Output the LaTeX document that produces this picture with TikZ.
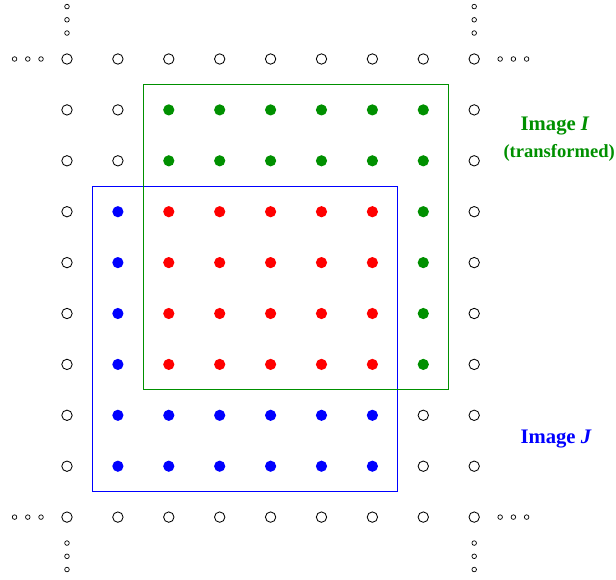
\documentclass[tikz,border=0pt]{standalone}
\usepackage{fontspec}
\setmainfont{Liberation Serif}
\usepackage{xcolor}
\usetikzlibrary{positioning}
\definecolor{gin}{HTML}{009000}
\definecolor{bin}{HTML}{0000FF}
\definecolor{rin}{HTML}{FF0000}
\definecolor{ink}{HTML}{000000}

\begin{document}
\begin{tikzpicture}[x=1.2725cm,y=-1.2725cm,
  hole/.style={circle,draw=ink,line width=0.6pt,fill=white,inner sep=0pt,minimum size=2.6mm},
  gdot/.style={circle,fill=gin,inner sep=0pt,minimum size=2.8mm},
  rdot/.style={circle,fill=rin,inner sep=0pt,minimum size=2.8mm},
  bdot/.style={circle,fill=bin,inner sep=0pt,minimum size=2.8mm},
  etc/.style={circle,draw=ink,line width=0.5pt,inner sep=0pt,minimum size=1.15mm},
  lbl/.style={font=\bfseries\fontsize{14.7}{17}\selectfont}]
  \useasboundingbox (-1.316,-1.159) rectangle (10.786,10.216);
  % image frames
  \draw[bin,line width=0.8pt] (0.5,2.5) rectangle (6.5,8.5);
  \draw[gin,line width=0.8pt] (1.5,0.5) rectangle (7.5,6.5);
  % sample grid
  \foreach \i in {0,...,8}{
    \foreach \j in {0,...,9}{
      \def\pt{hole}
      \ifnum\j>0 \ifnum\j<3 \ifnum\i>1 \ifnum\i<8 \def\pt{gdot}\fi\fi\fi\fi
      \ifnum\j>2 \ifnum\j<7
        \ifnum\i=1 \def\pt{bdot}\fi
        \ifnum\i>1 \ifnum\i<7 \def\pt{rdot}\fi\fi
        \ifnum\i=7 \def\pt{gdot}\fi
      \fi\fi
      \ifnum\j>6 \ifnum\j<9 \ifnum\i>0 \ifnum\i<7 \def\pt{bdot}\fi\fi\fi\fi
      \node[\pt] (p-\i-\j) at (\i,\j) {};
    }
  }
  % continuation dots
  \foreach \k/\d in {1/0.51,2/0.77,3/1.03}{
    \node[etc] (etc-tl-\k) at (0,-\d) {};
    \node[etc] (etc-tr-\k) at (8,-\d) {};
    \node[etc] (etc-bl-\k) at (0,9+\d) {};
    \node[etc] (etc-br-\k) at (8,9+\d) {};
    \node[etc] (etc-lt-\k) at (-\d,0) {};
    \node[etc] (etc-lb-\k) at (-\d,9) {};
    \node[etc] (etc-rt-\k) at (8+\d,0) {};
    \node[etc] (etc-rb-\k) at (8+\d,9) {};
  }
  % labels
  \node[lbl,text=gin] (imgI) at (9.59,1.32) {Image \textit{I}};
  \node[lbl,text=gin,font=\bfseries\fontsize{13.2}{16}\selectfont] (trans) at (9.67,1.85) {(transformed)};
  \node[lbl,text=bin] (imgJ) at (9.61,7.46) {Image \textit{J}};
\end{tikzpicture}
\end{document}
